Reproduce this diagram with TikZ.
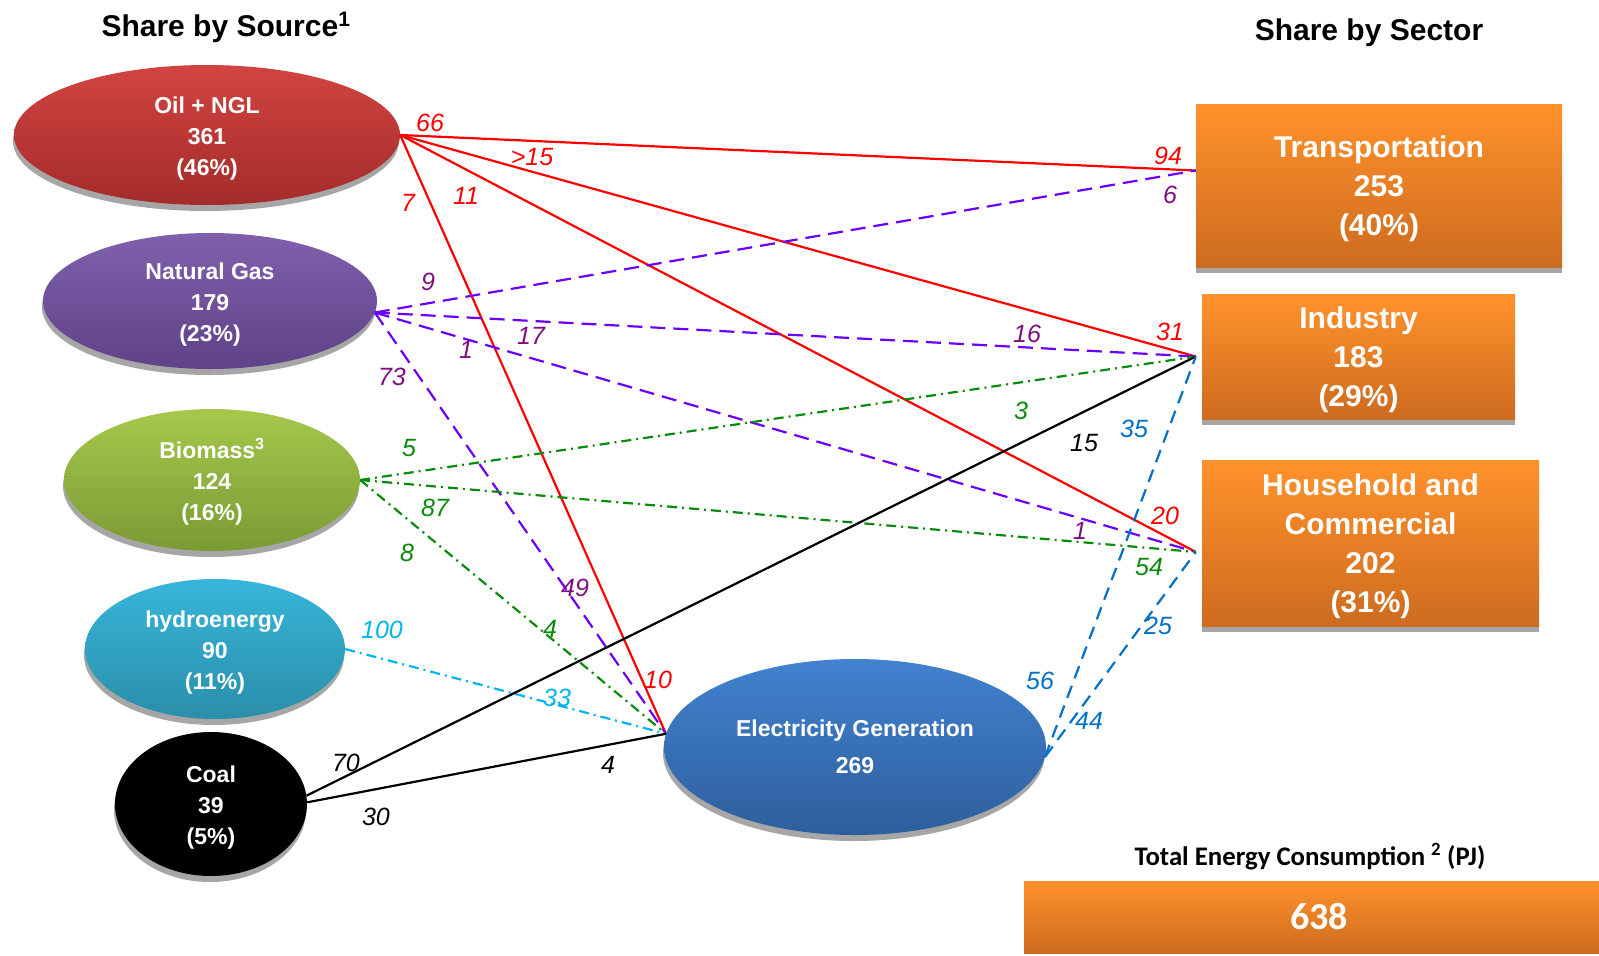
\documentclass[tikz,border=0pt]{standalone}
\usepackage{fontspec}
\setmainfont{Liberation Sans}
\newfontfamily\calib{Carlito}
\usetikzlibrary{shapes.geometric,shadows,calc}
\definecolor{oilT}{HTML}{D24441}\definecolor{oilB}{HTML}{A32C2A}
\definecolor{ngT}{HTML}{8060AC}\definecolor{ngB}{HTML}{5F4288}
\definecolor{bioT}{HTML}{A5C84C}\definecolor{bioB}{HTML}{7A9A34}
\definecolor{hydT}{HTML}{37B6DA}\definecolor{hydB}{HTML}{2A8EA9}
\definecolor{eleT}{HTML}{4282D0}\definecolor{eleB}{HTML}{2E5E9C}
\definecolor{orT}{HTML}{FF922B}\definecolor{orB}{HTML}{CD6B1F}
\definecolor{shd}{HTML}{A6A6A6}
\definecolor{cRed}{HTML}{FF0000}
\definecolor{cVio}{HTML}{6A00FF}
\definecolor{cPur}{HTML}{7F0F7F}
\definecolor{cGrn}{HTML}{0A8A0A}
\definecolor{cCyn}{HTML}{00B4F0}
\definecolor{cBlu}{HTML}{0070C8}
\newcommand\liftE{\rule{0pt}{24pt}}
\newcommand\liftB{\rule{0pt}{29pt}}
\tikzset{
  src/.style={ellipse, inner sep=0pt, text=white, align=center,
    font=\bfseries\fontsize{23}{31}\selectfont,
    drop shadow={shadow xshift=-1pt, shadow yshift=-6pt, fill=shd, opacity=1}},
  sectorbox/.style={rectangle, inner sep=0pt, text=white, align=center,
    font=\bfseries\fontsize{30}{39}\selectfont, top color=orT, bottom color=orB,
    drop shadow={shadow xshift=0pt, shadow yshift=-6pt, fill=shd, opacity=1}},
  lbl/.style={font=\itshape\fontsize{25}{30}\selectfont, inner sep=0pt},
  flow/.style={line width=2.2pt},
  oilL/.style={flow, draw=cRed},
  ngL/.style={flow, draw=cVio, dash pattern=on 15pt off 8pt},
  bioL/.style={flow, draw=cGrn, dash pattern=on 10pt off 5pt on 2pt off 5pt},
  hydL/.style={flow, draw=cCyn, dash pattern=on 10pt off 5pt on 2pt off 5pt},
  coalL/.style={flow, draw=black},
  eleL/.style={flow, draw=cBlu, dash pattern=on 13pt off 8pt},
  hdr/.style={font=\bfseries\fontsize{30}{36}\selectfont, inner sep=0pt, anchor=base}
}
\begin{document}
\begin{tikzpicture}[x=1pt,y=-1pt]
\useasboundingbox (0,0) rectangle (1599,956);
% headers
\node[hdr] (hsrc) at (226,36) {Share by Source\textsuperscript{1}};
\node[hdr] (hsec) at (1369,40) {Share by Sector};
% sector boxes
\node[sectorbox, minimum width=366pt, minimum height=163pt] (trans) at (1379,185.5) {\liftB Transportation\\253\\(40\%)};
\node[sectorbox, minimum width=313pt, minimum height=125pt] (ind) at (1358.5,356.5) {\liftB Industry\\183\\(29\%)};
\node[sectorbox, minimum width=337pt, minimum height=166pt] (hh) at (1370.5,543) {\liftB Household and\\Commercial\\202\\(31\%)};
% junction points
\coordinate (trin) at ($(trans.west)+(0,-15)$);
\coordinate (inin) at ($(ind.west)+(-6,0)$);
\coordinate (hhin) at ($(hh.west)+(-6,9)$);
% electricity node
\node[src, minimum width=382pt, minimum height=176pt, top color=eleT, bottom color=eleB,
  font=\bfseries\fontsize{23}{37}\selectfont] (ele) at (855,747) {Electricity Generation\\269};
% sources
\node[src, minimum width=386pt, minimum height=140pt, top color=oilT, bottom color=oilB] (oil) at (207,135) {\liftE Oil + NGL\\361\\(46\%)};
\node[src, minimum width=334pt, minimum height=136pt, top color=ngT, bottom color=ngB] (ng) at (210,301) {\liftE Natural Gas\\179\\(23\%)};
\node[src, minimum width=296pt, minimum height=142pt, top color=bioT, bottom color=bioB] (bio) at (212,480) {\liftE Biomass\textsuperscript{3}\\124\\(16\%)};
\node[src, minimum width=260pt, minimum height=140pt, top color=hydT, bottom color=hydB] (hyd) at (215,649) {\liftE hydroenergy\\90\\(11\%)};
\node[src, minimum width=192pt, minimum height=144pt, fill=black] (coal) at (211,804) {\liftE Coal\\39\\(5\%)};
% connectors
\draw[oilL] (oil.east) -- (trin);
\draw[oilL] (oil.east) -- (inin);
\draw[oilL] (oil.east) -- (hhin);
\draw[oilL] (oil.east) -- (ele.176);
\draw[ngL] (ng.-4) -- (trin);
\draw[ngL] (ng.-4) -- (inin);
\draw[ngL] (ng.-4) -- (hhin);
\draw[ngL] (ng.-4) -- (ele.176);
\draw[bioL] (bio.east) -- (inin);
\draw[bioL] (bio.east) -- (hhin);
\draw[bioL] (bio.east) -- (ele.176);
\draw[hydL] (hyd.east) -- (ele.176);
\draw[coalL] (coal.5) -- (inin);
\draw[coalL] (coal.1) -- (ele.176);
\draw[eleL] (ele.-3) -- (inin);
\draw[eleL] (ele.-3) -- (hhin);
% labels
\node[lbl, text=cRed] (l66) at (430,123) {66};
\node[lbl, text=cRed] (l94) at (1168,156) {94};
\node[lbl, text=cRed] (l15) at (532,157) {>15};
\node[lbl, text=cRed] (l31) at (1170,332) {31};
\node[lbl, text=cRed] (l11) at (466,196) {11};
\node[lbl, text=cRed] (l20) at (1165,516) {20};
\node[lbl, text=cRed] (l7) at (408,203) {7};
\node[lbl, text=cRed] (l10) at (658,680) {10};
\node[lbl, text=cPur] (l9) at (428,282) {9};
\node[lbl, text=cPur] (l6) at (1170,195) {6};
\node[lbl, text=cPur] (l17) at (531,336) {17};
\node[lbl, text=cPur] (l16) at (1027,334) {16};
\node[lbl, text=cPur] (l1a) at (466,350) {1};
\node[lbl, text=cPur] (l1b) at (1080,531) {1};
\node[lbl, text=cPur] (l73) at (392,377) {73};
\node[lbl, text=cPur] (l49) at (575,588) {49};
\node[lbl, text=cGrn] (l5) at (409,448) {5};
\node[lbl, text=cGrn] (l3) at (1021,411) {3};
\node[lbl, text=cGrn] (l87) at (435,508) {87};
\node[lbl, text=cGrn] (l54) at (1149,567) {54};
\node[lbl, text=cGrn] (l8) at (407,553) {8};
\node[lbl, text=cGrn] (l4g) at (550,629) {4};
\node[lbl, text=cCyn] (l100) at (382,630) {100};
\node[lbl, text=cCyn] (l33) at (557,698) {33};
\node[lbl, text=black] (l70) at (346,763) {70};
\node[lbl, text=black] (l15b) at (1084,443) {15};
\node[lbl, text=black] (l30) at (376,817) {30};
\node[lbl, text=black] (l4k) at (608,765) {4};
\node[lbl, text=cBlu] (l56) at (1040,681) {56};
\node[lbl, text=cBlu] (l35) at (1134,429) {35};
\node[lbl, text=cBlu] (l44) at (1089,721) {44};
\node[lbl, text=cBlu] (l25) at (1158,626) {25};
% total
\node[font=\calib\bfseries\fontsize{26.8}{30}\selectfont, inner sep=0pt, anchor=base] (ttl) at (1310,865) {Total Energy Consumption \textsuperscript{2} (PJ)};
\node[rectangle, inner sep=0pt, minimum width=590pt, minimum height=72pt, top color=orT, bottom color=orB,
  text=white, font=\calib\bfseries\fontsize{38}{44}\selectfont] (tot) at (1319,917) {638};
\end{tikzpicture}
\end{document}
